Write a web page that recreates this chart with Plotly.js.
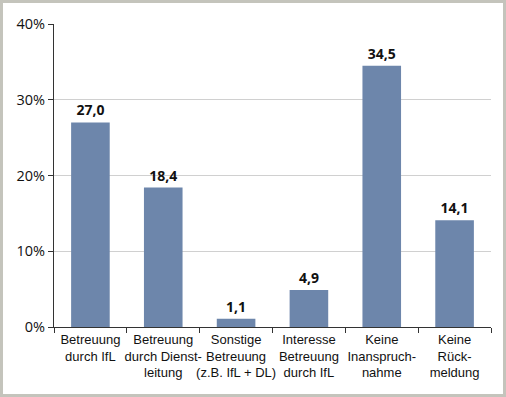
<!DOCTYPE html>
<html><head><meta charset="utf-8">
<script src="https://cdn.plot.ly/plotly-3.0.1.min.js"></script>
<style>html,body{margin:0;padding:0;background:#fff}#c{width:506px;height:397px}</style>
</head><body><div id="c"></div>
<script>
const categories = [
  "Betreuung<br>durch IfL",
  "Betreuung<br>durch Dienst-<br>leitung",
  "Sonstige<br>Betreuung<br>(z.B. IfL + DL)",
  "Interesse<br>Betreuung<br>durch IfL",
  "Keine<br>Inanspruch-<br>nahme",
  "Keine<br>Rück-<br>meldung"
];
const values = [27.0, 18.4, 1.1, 4.9, 34.5, 14.1];
const valueLabels = ["27,0", "18,4", "1,1", "4,9", "34,5", "14,1"];
const tickVals = [0, 10, 20, 30, 40];
const tickText = ["0%", "10%", "20%", "30%", "40%"];

const trace = {
  type: "bar",
  x: categories,
  y: values,
  text: valueLabels,
  textposition: "outside",
  cliponaxis: false,
  textfont: {family: "Open Sans, Liberation Sans, sans-serif", size: 14, color: "#111", weight: 700},
  marker: {color: "#6d86ab"},
  width: 0.53,
  hoverinfo: "none"
};

const layout = {
  width: 506, height: 397,
  margin: {l: 54, r: 15, t: 24, b: 70},
  paper_bgcolor: "#ffffff",
  plot_bgcolor: "#ffffff",
  showlegend: false,
  font: {family: "Liberation Sans Narrow, Liberation Sans, sans-serif", color: "#111", size: 12},
  xaxis: {
    type: "category",
    tickson: "boundaries",
    ticks: "outside",
    ticklen: 5,
    tickcolor: "#333",
    tickangle: 0,
    automargin: false,
    showline: true,
    linecolor: "#333",
    linewidth: 1,
    tickfont: {family: "Liberation Sans Narrow, Liberation Sans, sans-serif", size: 13, color: "#111"},
    showgrid: false
  },
  yaxis: {
    range: [0, 40],
    tickvals: tickVals,
    ticktext: tickText,
    ticks: "outside",
    ticklen: 5,
    tickcolor: "#333",
    automargin: false,
    showline: true,
    linecolor: "#333",
    linewidth: 1,
    showgrid: true,
    gridcolor: "#d0d0d0",
    zeroline: false,
    tickfont: {family: "Open Sans, sans-serif", size: 14.5, color: "#111"}
  }
};

Plotly.newPlot("c", [trace], layout, {displayModeBar: false, staticPlot: true}).then(function(){
  const svg = document.querySelector("#c svg.main-svg");
  const ns = "http://www.w3.org/2000/svg";
  const r = document.createElementNS(ns, "rect");
  r.setAttribute("x", 1.5); r.setAttribute("y", 1.5);
  r.setAttribute("width", 503); r.setAttribute("height", 394);
  r.setAttribute("fill", "none"); r.setAttribute("stroke", "#c4c4bc"); r.setAttribute("stroke-width", 3);
  svg.appendChild(r);
});
</script>
</body></html>
